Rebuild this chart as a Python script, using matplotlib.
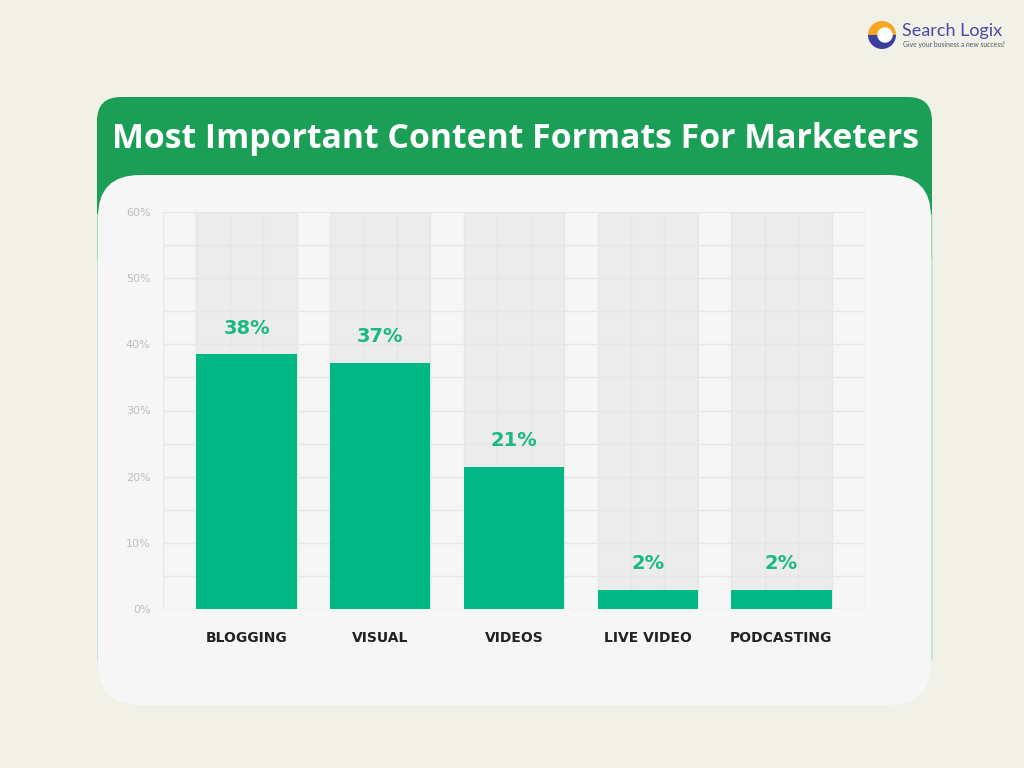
import matplotlib
matplotlib.use("Agg")
import matplotlib.pyplot as plt
from matplotlib.patches import FancyBboxPatch, Wedge
import numpy as np

# ---- data ----
categories = ["BLOGGING", "VISUAL", "VIDEOS", "LIVE VIDEO", "PODCASTING"]
values = [38.5, 37.2, 21.5, 2.9, 2.9]          # bar heights as drawn (%)
value_labels = ["38%", "37%", "21%", "2%", "2%"]
y_ticks = [0, 10, 20, 30, 40, 50, 60]
y_tick_labels = ["0%", "10%", "20%", "30%", "40%", "50%", "60%"]
title = "Most Important Content Formats For Marketers"

BG = "#f2f1e7"
CARD = "#f6f6f6"
HEADER = "#1b9e55"
BAR = "#00b884"
LABEL_GREEN = "#1db981"
BAND = "#ececec"
GRID = "#e6e6e6"

fig = plt.figure(figsize=(10.24, 7.68), dpi=100, facecolor=BG)

# background canvas in pixel coordinates
bg = fig.add_axes([0, 0, 1, 1])
bg.set_xlim(0, 1024)
bg.set_ylim(768, 0)
bg.axis("off")
bg.set_facecolor(BG)

header = FancyBboxPatch((97, 97), 835, 180,
                        boxstyle="round,pad=0,rounding_size=24",
                        facecolor=HEADER, edgecolor="none", zorder=1)
bg.add_patch(header)
# thin light-green edges along the card sides
bg.plot([97.5, 97.5], [215, 660], color="#bfe8cc", lw=1.2, zorder=1.5)
bg.plot([931.5, 931.5], [215, 660], color="#bfe8cc", lw=1.2, zorder=1.5)
card = FancyBboxPatch((98, 175), 833, 530,
                      boxstyle="round,pad=0,rounding_size=42",
                      facecolor=CARD, edgecolor="none", zorder=2)
bg.add_patch(card)
bg.text(516, 139, title, color="white", fontsize=24.4, fontweight="bold",
        family="Open Sans", ha="center", va="center", zorder=3)

# logo
cx, cy, r = 882, 35, 14
bg.add_patch(Wedge((cx, cy), r, 180, 360, facecolor="#f5a623", edgecolor="none", zorder=3))
bg.add_patch(Wedge((cx, cy), r, 0, 180, facecolor="#3d3f9e", edgecolor="none", zorder=3))
bg.add_patch(Wedge((cx + 3, cy), r * 0.55, 0, 360, facecolor="white", edgecolor="none", zorder=4))
bg.text(902, 31, "Search Logix", color="#4a4aa8", fontsize=13, family="Lato",
        ha="left", va="center", zorder=3)
bg.text(903, 45, "Give your business a new success!", color="#555566", fontsize=4.9,
        family="Lato", ha="left", va="center", zorder=3)

# chart axes
ax = fig.add_axes([163 / 1024, (768 - 609) / 768, 702 / 1024, 397 / 768])
ax.set_facecolor(CARD)
x = np.arange(len(categories))
width = 0.75
ax.set_xlim(-0.625, len(categories) - 1 + 0.625)
ax.set_ylim(0, 60)

ax.bar(x, [60] * len(categories), width=width, color=BAND, zorder=0)
for yy in range(0, 61, 5):
    ax.axhline(yy, color=GRID, lw=1.0, zorder=1)
for k in range(22):
    ax.axvline(-0.625 + k * 0.25, color=GRID, lw=1.0, zorder=1)

ax.bar(x, values, width=width, color=BAR, zorder=2)
for xi, v, lab in zip(x, values, value_labels):
    ax.annotate(lab, (xi, v), xytext=(0, 26), textcoords="offset pixels",
                ha="center", va="center", color=LABEL_GREEN, fontsize=14,
                fontweight="bold", family="DejaVu Sans", zorder=3)

for s in ax.spines.values():
    s.set_visible(False)
ax.set_yticks(y_ticks)
ax.set_yticklabels(y_tick_labels, color="#bdbdbd", fontsize=8, family="DejaVu Sans")
ax.set_xticks(x)
ax.set_xticklabels(categories, color="#222222", fontsize=10, fontweight="bold", family="DejaVu Sans")
ax.tick_params(axis="y", length=0, pad=9)
ax.tick_params(axis="x", length=0, pad=16)

fig.savefig("out.png", dpi=100, facecolor=BG)
